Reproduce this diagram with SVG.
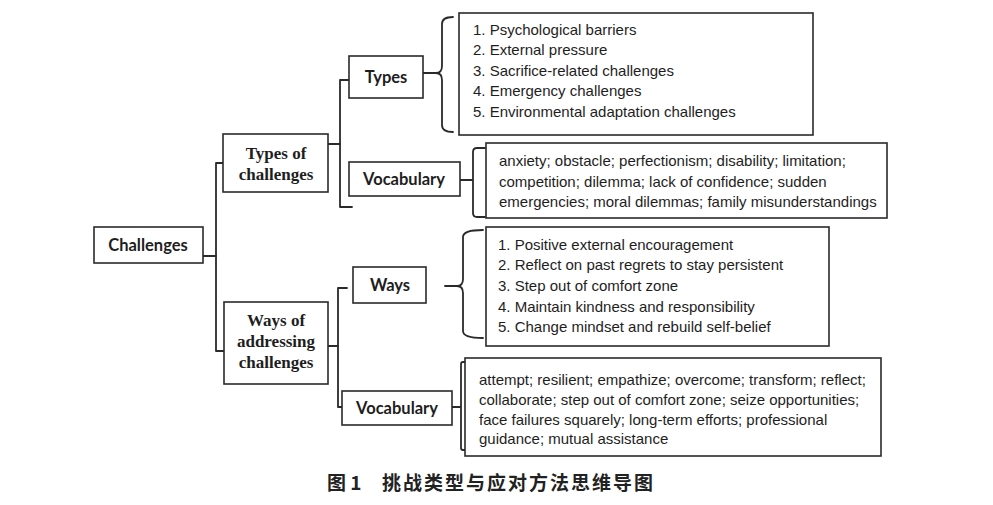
<svg xmlns="http://www.w3.org/2000/svg" width="993" height="505" viewBox="0 0 993 505">
<style>
.box{fill:#fff;stroke:#2a2a2a;stroke-width:1.6}
.ln{fill:none;stroke:#2a2a2a;stroke-width:1.8;stroke-linejoin:round;stroke-linecap:round}
.lbl{font-family:Lato,"Open Sans","Liberation Sans",sans-serif;font-weight:bold;font-size:16.5px;fill:#1e1e1e;text-anchor:middle}
.ser{font-family:"Liberation Serif","DejaVu Serif",serif;font-weight:bold;font-size:17px;fill:#1e1e1e;text-anchor:middle}
.lst{font-family:"Liberation Sans",Arial,sans-serif;font-size:15px;fill:#1e1e1e}
.cap{font-family:"Noto Sans CJK SC",sans-serif;font-weight:bold;font-size:19px;fill:#222}
</style>
<rect width="993" height="505" fill="#fff"/>
<g id="connectors">
<path class="ln" d="M203,256 H216"/>
<path class="ln" d="M224,163 H216 V351 H224"/>
<path class="ln" d="M328,144 H340"/>
<path class="ln" d="M349,80 H340 V207 H352"/>
<path class="ln" d="M328,346 H338"/>
<path class="ln" d="M347,288 H338 V407 H347"/>
<path class="ln" d="M423,73 H436 Q442,73 442,66 V24 Q442,17 453,17 M436,73 Q442,73 442,80 V125 Q442,132 453,132"/>
<path class="ln" d="M460,180 H473 M485,148 H477 Q473,148 473,152 V213 Q473,217 477,217 H485"/>
<path class="ln" d="M445,286 H457 Q463,286 463,279 V237 Q463,230 483,230 M457,286 Q463,286 463,293 V331 Q463,338 483,338"/>
<path class="ln" d="M452,407 H461 M465,362 H463 Q461,362 461,364 V448 Q461,450 463,450 H465"/>
</g>
<g id="challenges"><rect class="box" x="94" y="227" width="109" height="36"/><text class="lbl" x="148" y="251">Challenges</text></g>
<g id="types-of-challenges"><rect class="box" x="223" y="134" width="105" height="58"/><text class="ser" x="276" y="159">Types of</text><text class="ser" x="276" y="180">challenges</text></g>
<g id="ways-of-addressing"><rect class="box" x="224" y="302" width="104" height="82"/><text class="ser" x="276" y="326">Ways of</text><text class="ser" x="276" y="347">addressing</text><text class="ser" x="276" y="368">challenges</text></g>
<g id="types"><rect class="box" x="349" y="56" width="74" height="42"/><text class="lbl" x="386" y="83">Types</text></g>
<g id="vocabulary-1"><rect class="box" x="349" y="162" width="111" height="34"/><text class="lbl" x="404" y="185">Vocabulary</text></g>
<g id="ways"><rect class="box" x="353" y="267" width="73" height="36"/><text class="lbl" x="390" y="291">Ways</text></g>
<g id="vocabulary-2"><rect class="box" x="342" y="391" width="110" height="34"/><text class="lbl" x="397" y="414">Vocabulary</text></g>
<g id="types-list"><rect class="box" x="459" y="13" width="354" height="122"/>
<text class="lst" x="473" y="35">1. Psychological barriers</text>
<text class="lst" x="473" y="55">2. External pressure</text>
<text class="lst" x="473" y="76">3. Sacrifice-related challenges</text>
<text class="lst" x="473" y="96">4. Emergency challenges</text>
<text class="lst" x="473" y="117">5. Environmental adaptation challenges</text></g>
<g id="vocab-list-1"><rect class="box" x="486" y="143" width="401" height="75"/>
<text class="lst" x="499" y="166">anxiety; obstacle; perfectionism; disability; limitation;</text>
<text class="lst" x="499" y="187">competition; dilemma; lack of confidence; sudden</text>
<text class="lst" x="499" y="207">emergencies; moral dilemmas; family misunderstandings</text></g>
<g id="ways-list"><rect class="box" x="486" y="227" width="343" height="119"/>
<text class="lst" x="498" y="250">1. Positive external encouragement</text>
<text class="lst" x="498" y="270">2. Reflect on past regrets to stay persistent</text>
<text class="lst" x="498" y="291">3. Step out of comfort zone</text>
<text class="lst" x="498" y="312">4. Maintain kindness and responsibility</text>
<text class="lst" x="498" y="332">5. Change mindset and rebuild self-belief</text></g>
<g id="vocab-list-2"><rect class="box" x="465" y="358" width="416" height="98"/>
<text class="lst" x="479" y="385">attempt; resilient; empathize; overcome; transform; reflect;</text>
<text class="lst" x="479" y="405">collaborate; step out of comfort zone; seize opportunities;</text>
<text class="lst" x="479" y="425">face failures squarely; long-term efforts; professional</text>
<text class="lst" x="479" y="444">guidance; mutual assistance</text></g>
<g id="caption"><text class="cap" x="327" y="490">图 1</text><text class="cap" x="382" y="490" letter-spacing="2">挑战类型与应对方法思维导图</text></g>
</svg>
